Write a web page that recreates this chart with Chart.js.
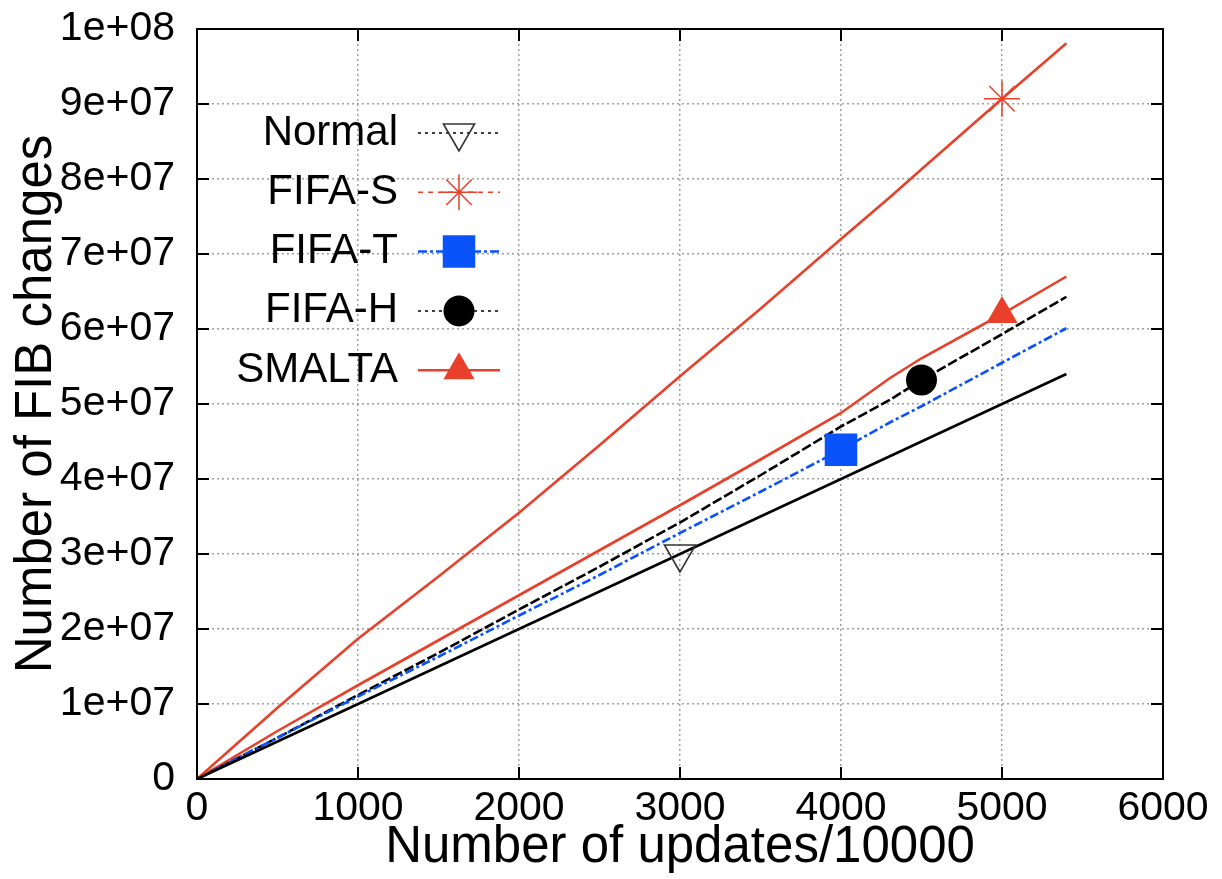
<!DOCTYPE html>
<html>
<head>
<meta charset="utf-8">
<script src="https://cdn.jsdelivr.net/npm/chart.js@4.4.1/dist/chart.umd.min.js"></script>
<style>
  html, body { margin: 0; padding: 0; background: #fff; }
  #wrap { width: 1222px; height: 879px; }
</style>
</head>
<body>
<div id="wrap"><canvas id="myChart" width="1222" height="879"></canvas></div>
<script>
// x = number of updates / 10000
var updates = [0, 500, 1000, 1500, 2000, 2500, 3000, 3500, 4000, 4300, 4500, 5000, 5400];

// number of FIB changes
var normal = [0, 0.5e7, 1.0e7, 1.5e7, 2.0e7, 2.5e7, 3.0e7, 3.5e7, 4.0e7, 4.3e7, 4.5e7, 5.0e7, 5.4e7];
var fifaS  = [0, 0.95e7, 1.87e7, 2.7e7, 3.55e7, 4.45e7, 5.37e7, 6.27e7, 7.2e7, 7.75e7, 8.13e7, 9.07e7, 9.81e7];
var fifaT  = [0, 0.55e7, 1.1e7, 1.63e7, 2.18e7, 2.72e7, 3.28e7, 3.83e7, 4.39e7, 4.75e7, 4.97e7, 5.55e7, 6.01e7];
var fifaH  = [0, 0.55e7, 1.12e7, 1.68e7, 2.26e7, 2.83e7, 3.42e7, 4.05e7, 4.7e7, 5.05e7, 5.32e7, 5.93e7, 6.43e7];
var smalta = [0, 0.64e7, 1.25e7, 1.85e7, 2.45e7, 3.05e7, 3.65e7, 4.26e7, 4.88e7, 5.34e7, 5.61e7, 6.2e7, 6.7e7];

var seriesNames = ["Normal", "FIFA-S", "FIFA-T", "FIFA-H", "SMALTA"];
// where each series shows its marker
var markerAt = [3000, 5000, 4000, 4500, 5000];

var xTicks = [0, 1000, 2000, 3000, 4000, 5000, 6000];
var yTicks = [0, 1e7, 2e7, 3e7, 4e7, 5e7, 6e7, 7e7, 8e7, 9e7, 1e8];

var FONT = "'Liberation Sans', Arial, Helvetica, sans-serif";
var RED = '#e8402a';
var BLUE = '#0a52fa';

function toPoints(values) {
    return values.map(function(v, i) { return {x: updates[i], y: v}; });
}

function gnuplotExp(v) {
    if (v === 0) return "0";
    var parts = v.toExponential(0).split("e");
    var exp = parseInt(parts[1], 10);
    var a = Math.abs(exp);
    return parts[0] + "e" + (exp < 0 ? "-" : "+") + (a < 10 ? "0" : "") + a;
}

function markerRadius(seriesIndex, r) {
    return function(ctx) {
        return ctx.raw && ctx.raw.x === markerAt[seriesIndex] ? r : 0;
    };
}

var styles = [
    {color: '#000', dash: [], legendDash: [3, 4], legendWidth: 1.5, pointStyle: 'triangle', rotation: 180, radius: 18, fill: 'rgba(0,0,0,0)', pointBorder: '#333', pointBorderWidth: 1.6},
    {color: RED, dash: [], legendDash: [5, 5], legendWidth: 1.5, pointStyle: 'star', rotation: 0, radius: 18, fill: RED, pointBorder: RED, pointBorderWidth: 1.5},
    {color: BLUE, dash: [9, 3, 3, 3], legendDash: [9, 3, 3, 3], legendWidth: 2.5, pointStyle: 'rect', rotation: 0, radius: 23, fill: BLUE, pointBorder: BLUE, pointBorderWidth: 0},
    {color: '#000', dash: [10, 3], legendDash: [3, 4], legendWidth: 1.5, pointStyle: 'circle', rotation: 0, radius: 15.5, fill: '#000', pointBorder: '#000', pointBorderWidth: 0},
    {color: RED, dash: [], legendDash: [], legendWidth: 2.5, pointStyle: 'triangle', rotation: 0, radius: 18, fill: RED, pointBorder: RED, pointBorderWidth: 0}
];

var seriesValues = [normal, fifaS, fifaT, fifaH, smalta];

var datasets = seriesValues.map(function(vals, i) {
    var s = styles[i];
    return {
        label: seriesNames[i],
        data: toPoints(vals),
        borderColor: s.color,
        borderWidth: 2.6,
        borderDash: s.dash,
        tension: 0,
        fill: false,
        pointStyle: s.pointStyle,
        rotation: s.rotation,
        pointRadius: markerRadius(i, s.radius),
        pointBackgroundColor: s.fill,
        pointBorderColor: s.pointBorder,
        pointBorderWidth: s.pointBorderWidth,
        legendDash: s.legendDash,
        legendWidth: s.legendWidth,
        legendRadius: s.radius
    };
});

// gnuplot-like frame with inward (mirrored) tick marks
var framePlugin = {
    id: 'frame',
    afterDatasetsDraw: function(chart) {
        var ctx = chart.ctx, a = chart.chartArea;
        var xs = chart.scales.x, ys = chart.scales.y;
        ctx.save();
        ctx.setLineDash([]);
        ctx.strokeStyle = '#000';
        ctx.lineWidth = 2;
        ctx.strokeRect(a.left, a.top, a.right - a.left, a.bottom - a.top);
        ctx.beginPath();
        yTicks.forEach(function(v) {
            var py = ys.getPixelForValue(v);
            ctx.moveTo(a.left, py); ctx.lineTo(a.left + 12, py);
            ctx.moveTo(a.right, py); ctx.lineTo(a.right - 12, py);
        });
        xTicks.forEach(function(v) {
            var px = xs.getPixelForValue(v);
            ctx.moveTo(px, a.bottom); ctx.lineTo(px, a.bottom - 12);
            ctx.moveTo(px, a.top); ctx.lineTo(px, a.top + 12);
        });
        ctx.stroke();
        ctx.restore();
    }
};

// key drawn inside the plot: label on the left, line sample + marker on the right
var keyPlugin = {
    id: 'insideKey',
    afterDraw: function(chart) {
        var ctx = chart.ctx, a = chart.chartArea;
        var textRight = a.left + 201;
        var lineFrom = a.left + 221, lineTo = a.left + 303;
        var markX = (lineFrom + lineTo) / 2;
        ctx.save();
        chart.data.datasets.forEach(function(ds, i) {
            var y = a.top + 104 + i * 59.3;
            ctx.font = "42px " + FONT;
            ctx.fillStyle = '#000';
            ctx.textAlign = 'right';
            ctx.textBaseline = 'middle';
            ctx.fillText(ds.label, textRight, y);

            ctx.strokeStyle = ds.borderColor;
            ctx.lineWidth = ds.legendWidth;
            ctx.setLineDash(ds.legendDash);
            ctx.beginPath();
            ctx.moveTo(lineFrom, y);
            ctx.lineTo(lineTo, y);
            ctx.stroke();

            ctx.setLineDash([]);
            ctx.fillStyle = ds.pointBackgroundColor;
            ctx.strokeStyle = ds.pointBorderColor;
            ctx.lineWidth = ds.pointBorderWidth;
            Chart.helpers.drawPoint(ctx, {
                pointStyle: ds.pointStyle,
                rotation: ds.rotation,
                radius: ds.legendRadius,
                borderWidth: ds.pointBorderWidth
            }, markX, y);
        });
        ctx.restore();
    }
};

new Chart(document.getElementById("myChart"), {
    type: 'line',
    data: { datasets: datasets },
    options: {
        responsive: false,
        animation: false,
        events: [],
        layout: { padding: { top: 29, right: 59, left: 0, bottom: 0 } },
        plugins: {
            legend: { display: false },
            tooltip: { enabled: false }
        },
        scales: {
            x: {
                type: 'linear',
                min: 0,
                max: 6000,
                afterBuildTicks: function(scale) {
                    scale.ticks = xTicks.map(function(v) { return {value: v}; });
                },
                afterFit: function(scale) {
                    scale.height = 100;
                    scale.paddingLeft = 0;
                    scale.paddingRight = 0;
                },
                ticks: {
                    font: { family: FONT, size: 41 },
                    color: '#000',
                    padding: 5,
                    maxRotation: 0,
                    autoSkip: false,
                    callback: function(value) { return String(value); }
                },
                grid: { color: '#a0a0a0', lineWidth: 1.5, drawTicks: false },
                border: { display: false, dash: [2, 3] },
                title: {
                    display: true,
                    text: 'Number of updates/10000',
                    font: { family: FONT, size: 51 },
                    color: '#000',
                    padding: { top: 0, bottom: 0 }
                }
            },
            y: {
                type: 'linear',
                min: 0,
                max: 1e8,
                afterBuildTicks: function(scale) {
                    scale.ticks = yTicks.map(function(v) { return {value: v}; });
                },
                afterFit: function(scale) {
                    scale.width = 197;
                    scale.paddingTop = 0;
                    scale.paddingBottom = 0;
                },
                ticks: {
                    font: { family: FONT, size: 41 },
                    color: '#000',
                    padding: 22,
                    autoSkip: false,
                    callback: function(value) { return gnuplotExp(value); }
                },
                grid: { color: '#a0a0a0', lineWidth: 1.5, drawTicks: false },
                border: { display: false, dash: [2, 3] },
                title: {
                    display: true,
                    text: 'Number of FIB changes',
                    font: { family: FONT, size: 51 },
                    color: '#000',
                    padding: { top: 6, bottom: 0 }
                }
            }
        }
    },
    plugins: [framePlugin, keyPlugin]
});
</script>
</body>
</html>
